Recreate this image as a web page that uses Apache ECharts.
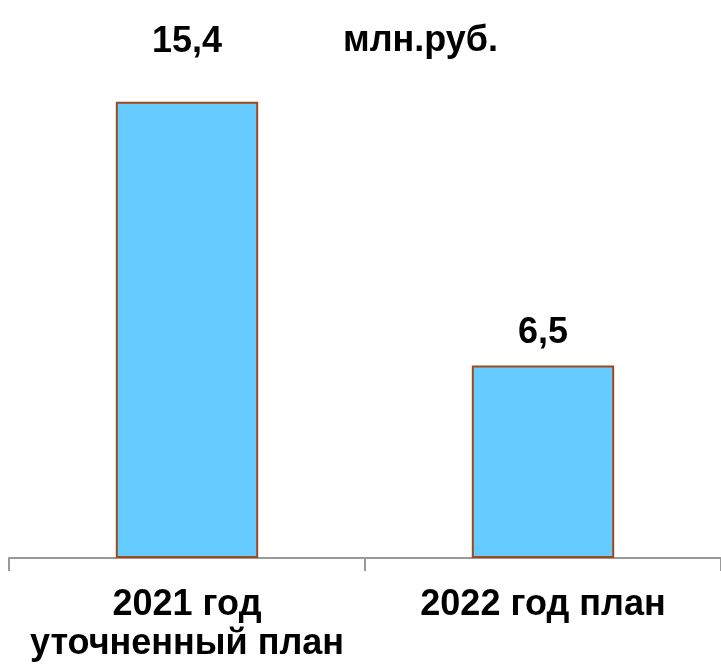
<!DOCTYPE html>
<html>
<head>
<meta charset="utf-8">
<script src="https://cdn.jsdelivr.net/npm/echarts@6/dist/echarts.min.js"></script>
<style>html,body{margin:0;padding:0;background:#fff}#c{width:721px;height:668px}</style>
</head>
<body>
<div id="c"></div>
<script>
const categories = ['2021 год\nуточненный план', '2022 год план'];
const values = [15.4, 6.5];
const unitLabel = 'млн.руб.';
const labelDistances = [42, 14];

const chart = echarts.init(document.getElementById('c'), null, {renderer: 'canvas'});
const font = '"Liberation Sans", Arial, sans-serif';
chart.setOption({
  animation: false,
  backgroundColor: '#fff',
  title: {
    text: unitLabel,
    left: 338, top: 18,
    textStyle: {fontFamily: font, fontWeight: 'bold', fontSize: 36, color: '#000'}
  },
  grid: {left: 9, right: 0, top: 84, bottom: 110, containLabel: false},
  xAxis: {
    type: 'category',
    data: categories,
    axisLine: {lineStyle: {color: '#999', width: 2}},
    axisTick: {show: true, length: 13, lineStyle: {color: '#999', width: 2}},
    axisLabel: {
      fontFamily: font, fontWeight: 'bold', fontSize: 36, color: '#000',
      margin: 28, lineHeight: 39, interval: 0
    }
  },
  yAxis: {
    type: 'value', min: 0, max: 16,
    show: false, splitLine: {show: false}
  },
  series: [{
    type: 'bar',
    barWidth: '40%',
    data: values.map((v, i) => ({value: v, label: {distance: labelDistances[i]}})),
    itemStyle: {color: '#66CCFF', borderColor: '#9C4A1E', borderWidth: 2},
    label: {
      show: true, position: 'top',
      formatter: p => String(p.value).replace('.', ','),
      fontFamily: font, fontWeight: 'bold', fontSize: 36, color: '#000'
    }
  }]
});
</script>
</body>
</html>
